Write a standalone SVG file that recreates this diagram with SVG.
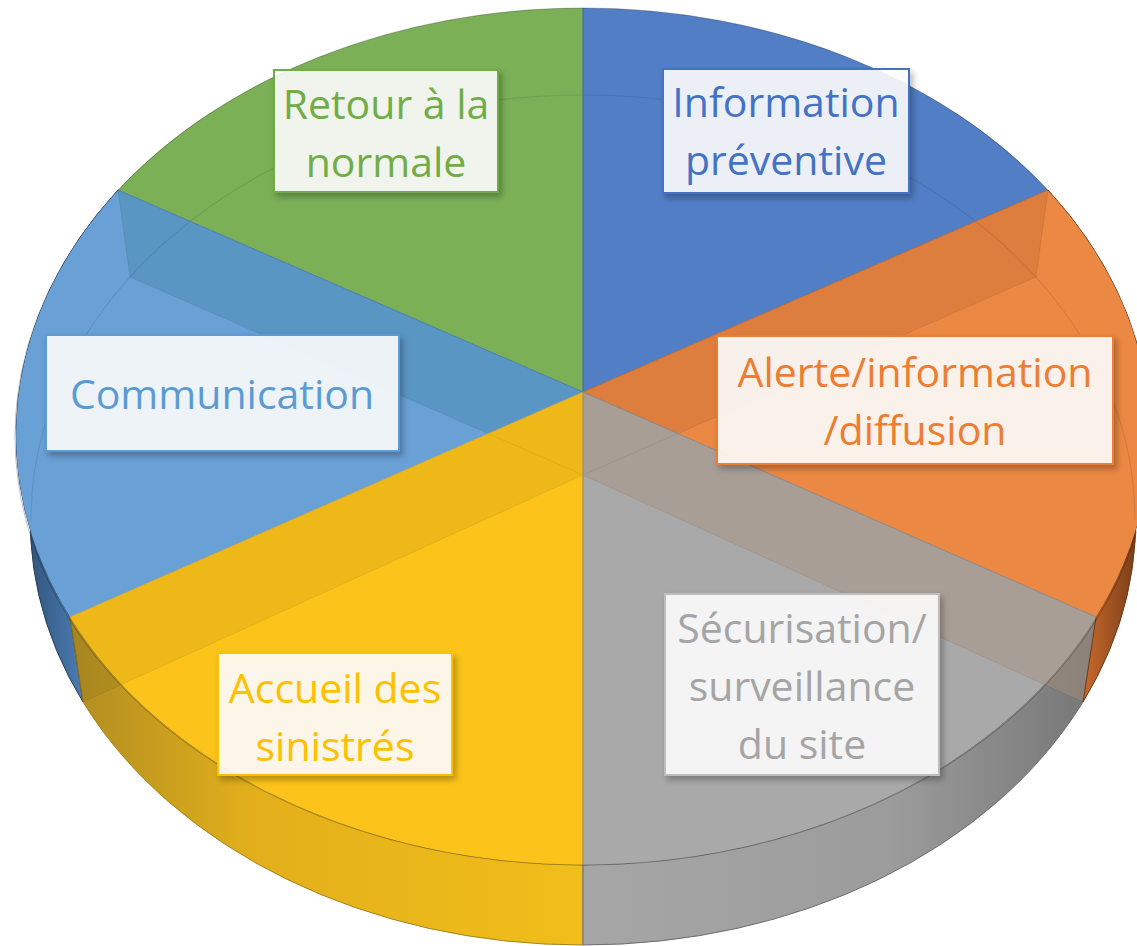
<svg xmlns="http://www.w3.org/2000/svg" width="1137" height="946" viewBox="0 0 1137 946">
<defs>
<style>
.lbl{font-family:"Open Sans","Noto Sans","DejaVu Sans",sans-serif;font-size:41px;text-anchor:middle}
.box{stroke-width:2;fill:#ffffff;fill-opacity:0.88}
.faint{fill:none;stroke:#000;stroke-opacity:0.09;stroke-width:1.2}
.edge{fill:none;stroke-width:1}
</style>
<filter id="sh" x="-10%" y="-10%" width="130%" height="140%">
<feDropShadow dx="3" dy="4" stdDeviation="3" flood-color="#000" flood-opacity="0.3"/>
</filter>
<linearGradient id="gY" gradientUnits="userSpaceOnUse" x1="70" y1="0" x2="583" y2="0">
<stop offset="0" stop-color="#B08D22"/>
<stop offset="0.35" stop-color="#E2AF1B"/>
<stop offset="1" stop-color="#F2BE1A"/>
</linearGradient>
<linearGradient id="gG" gradientUnits="userSpaceOnUse" x1="583" y1="0" x2="1096" y2="0">
<stop offset="0" stop-color="#A6A6A6"/>
<stop offset="0.6" stop-color="#9C9C9C"/>
<stop offset="1" stop-color="#767676"/>
</linearGradient>
<linearGradient id="gB" gradientUnits="userSpaceOnUse" x1="15" y1="0" x2="90" y2="0">
<stop offset="0" stop-color="#2B4A6E"/>
<stop offset="1" stop-color="#4F82BB"/>
</linearGradient>
<linearGradient id="gO" gradientUnits="userSpaceOnUse" x1="1083" y1="0" x2="1137" y2="0">
<stop offset="0" stop-color="#C86A2C"/>
<stop offset="1" stop-color="#7A3E18"/>
</linearGradient>
</defs>
<rect width="1137" height="946" fill="#ffffff"/>

<g id="sides">
<path d="M 70 617 L 83 702 A 552 425 0 0 1 130 277 L 118 190 A 568 428.5 0 0 0 70 617 Z" fill="url(#gB)" stroke="#2B3F55" stroke-width="1"/>
<path d="M 70 617 A 568 428.5 0 0 0 583 865 L 583 945 A 552 425 0 0 1 83 702 Z" fill="url(#gY)" stroke="#A38420" stroke-width="1"/>
<path d="M 583 865 A 568 428.5 0 0 0 1096 617 L 1083 702 A 552 425 0 0 1 583 945 Z" fill="url(#gG)" stroke="#6E6E6E" stroke-width="1"/>
<path d="M 1096 617 A 568 428.5 0 0 0 1048 190 L 1036 277 A 552 425 0 0 1 1083 702 Z" fill="url(#gO)" stroke="#6A3815" stroke-width="1"/>
</g>

<g id="slice-retour">
<path d="M 583 392 L 118 190 A 568 428.5 0 0 1 583 8 Z" fill="#7BB057"/>
</g>
<g id="slice-information">
<path d="M 583 392 L 583 8 A 568 428.5 0 0 1 1048 190 Z" fill="#527EC6"/>
</g>
<g id="slice-communication">
<path d="M 583 392 L 70 617 A 568 428.5 0 0 1 118 190 Z" fill="#69A0D6"/>
<polygon points="118,190 583,392 583,475 130,277" fill="#378297" fill-opacity="0.3"/>
</g>
<g id="slice-alerte">
<path d="M 583 392 L 1048 190 A 568 428.5 0 0 1 1096 617 Z" fill="#EB8843"/>
<polygon points="1048,190 583,392 583,475 1036,277" fill="#8A4A20" fill-opacity="0.15"/>
</g>
<g id="slice-accueil">
<path d="M 583 392 L 583 865 A 568 428.5 0 0 1 70 617 Z" fill="#FCC41A"/>
<polygon points="70,617 583,392 583,475 83,702" fill="#000" fill-opacity="0.055"/>
</g>
<g id="slice-securisation">
<path d="M 583 392 L 1096 617 A 568 428.5 0 0 1 583 865 Z" fill="#A9A9A9"/>
<polygon points="1096,617 583,392 583,475 1083,702" fill="#A8907E" fill-opacity="0.45"/>
</g>

<g id="edges">
<path class="faint" d="M 31 520 A 552 425 0 0 1 1135 520"/>
<path class="edge" d="M 130 277 L 583 475 L 1036 277 M 83 702 L 583 475 L 1083 702" stroke="#000" stroke-opacity="0.07"/>
<path class="edge" d="M 118 190 L 130 277 M 1048 190 L 1036 277" stroke="#000" stroke-opacity="0.08"/>
<line class="edge" x1="583" y1="392" x2="583" y2="8" stroke="#3F66A8"/>
<line class="edge" x1="583" y1="392" x2="118" y2="190" stroke="#3F73A8" stroke-opacity="0.8"/>
<line class="edge" x1="583" y1="392" x2="70" y2="617" stroke="#B89A40" stroke-opacity="0.7"/>
<line class="edge" x1="583" y1="392" x2="1048" y2="190" stroke="#B0602A" stroke-opacity="0.8"/>
<line class="edge" x1="583" y1="392" x2="1096" y2="617" stroke="#7F7F7F" stroke-opacity="0.8"/>
<path class="edge" d="M 583 392 L 583 945" stroke="#8C877A"/>
<path class="edge" d="M 70 617 L 83 702 M 1096 617 L 1083 702" stroke="#000" stroke-opacity="0.15"/>
<ellipse cx="583" cy="436.5" rx="568" ry="428.5" fill="none" stroke="#000" stroke-opacity="0.25" stroke-width="1"/>
</g>

<g id="labels">
<g id="label-retour">
<rect class="box" x="274" y="70" width="224" height="122" stroke="#70AD47" filter="url(#sh)"/>
<text class="lbl" fill="#70AD47"><tspan x="386" y="119">Retour à la</tspan><tspan x="386" y="177">normale</tspan></text>
</g>
<g id="label-information">
<rect class="box" x="663" y="69" width="246" height="124" stroke="#4472C4" filter="url(#sh)"/>
<text class="lbl" fill="#4472C4"><tspan x="786" y="117">Information</tspan><tspan x="786" y="175">préventive</tspan></text>
</g>
<g id="label-communication">
<rect class="box" x="46" y="335" width="353" height="116" stroke="#5B9BD5" filter="url(#sh)"/>
<text class="lbl" fill="#5B9BD5" x="222" y="409">Communication</text>
</g>
<g id="label-alerte">
<rect class="box" x="717" y="336" width="396" height="128" stroke="#ED7D31" filter="url(#sh)"/>
<text class="lbl" fill="#ED7D31"><tspan x="915" y="387">Alerte/information</tspan><tspan x="915" y="445">/diffusion</tspan></text>
</g>
<g id="label-securisation">
<rect class="box" x="665" y="594" width="274" height="181" stroke="#BDBDBD" filter="url(#sh)"/>
<text class="lbl" fill="#A5A5A5"><tspan x="802" y="643">Sécurisation/</tspan><tspan x="802" y="701">surveillance</tspan><tspan x="802" y="759">du site</tspan></text>
</g>
<g id="label-accueil">
<rect class="box" x="218" y="653" width="234" height="122" stroke="#FFC000" filter="url(#sh)"/>
<text class="lbl" fill="#FFC000"><tspan x="335" y="703">Accueil des</tspan><tspan x="335" y="761">sinistrés</tspan></text>
</g>
</g>
</svg>
